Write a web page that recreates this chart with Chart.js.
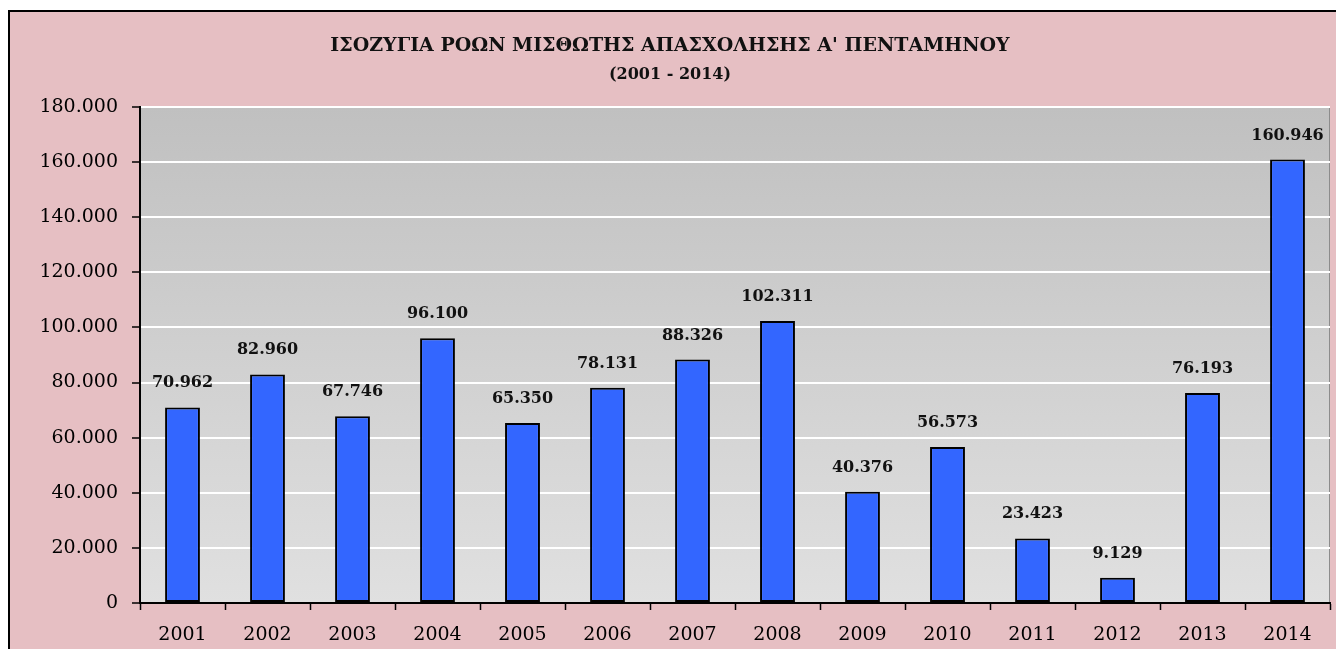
<!DOCTYPE html>
<html>
<head>
<meta charset="utf-8">
<script src="https://cdn.jsdelivr.net/npm/chart.js@4.4.0/dist/chart.umd.min.js"></script>
<style>
    html, body { margin: 0; padding: 0; background: #fff; overflow: hidden; }
    #frame {
        position: absolute;
        left: 8px;
        top: 10px;
        width: 1340px;
        height: 660px;
        border: 2px solid #000;
        background: #e6bfc3;
    }
    #wrap { position: absolute; left: 0; top: 0; width: 1326px; height: 637px; }
</style>
</head>
<body>
<div id="frame">
    <div id="wrap"><canvas id="chart"></canvas></div>
</div>
<script>
// Données
const years = ['2001', '2002', '2003', '2004', '2005', '2006', '2007',
               '2008', '2009', '2010', '2011', '2012', '2013', '2014'];
const balance = [70962, 82960, 67746, 96100, 65350, 78131, 88326,
                 102311, 40376, 56573, 23423, 9129, 76193, 160946];
const yTicks = [0, 20000, 40000, 60000, 80000, 100000, 120000, 140000, 160000, 180000];

const titleText = 'ΙΣΟΖΥΓΙΑ ΡΟΩΝ ΜΙΣΘΩΤΗΣ ΑΠΑΣΧΟΛΗΣΗΣ Α\' ΠΕΝΤΑΜΗΝΟΥ';
const subtitleText = '(2001 - 2014)';

// format 180000 -> 180.000
function fmt(v) {
    return String(Math.round(v)).replace(/\B(?=(\d{3})+(?!\d))/g, '.');
}

// fond gris dégradé + bord de la zone de tracé
const plotBackground = {
    id: 'plotBackground',
    beforeDraw(chart) {
        const { ctx, chartArea: a } = chart;
        const g = ctx.createLinearGradient(0, a.top, 0, a.bottom);
        g.addColorStop(0, '#c0c0c0');
        g.addColorStop(1, '#e0e0e0');
        ctx.save();
        ctx.fillStyle = g;
        ctx.fillRect(a.left, a.top, a.right - a.left, a.bottom - a.top);
        ctx.strokeStyle = '#8c8c8c';
        ctx.lineWidth = 1;
        ctx.strokeRect(a.left, a.top + 0.5, a.right - a.left - 0.5, a.bottom - a.top);
        ctx.restore();
    }
};

// étiquettes au-dessus des barres
const barLabels = {
    id: 'barLabels',
    afterDatasetsDraw(chart) {
        const { ctx } = chart;
        const meta = chart.getDatasetMeta(0);
        ctx.save();
        ctx.font = 'bold 16px "DejaVu Serif"';
        ctx.fillStyle = '#111';
        ctx.textAlign = 'center';
        ctx.textBaseline = 'alphabetic';
        meta.data.forEach((bar, i) => {
            ctx.fillText(fmt(balance[i]), bar.x, bar.y - 20);
        });
        ctx.restore();
    }
};

const ctx = document.getElementById('chart').getContext('2d');

new Chart(ctx, {
    type: 'bar',
    data: {
        labels: years,
        datasets: [{
            data: balance,
            backgroundColor: '#3366ff',
            borderColor: '#000',
            borderWidth: 2,
            borderSkipped: false,
            barPercentage: 0.41,
            categoryPercentage: 1
        }]
    },
    options: {
        responsive: true,
        maintainAspectRatio: false,
        animation: false,
        layout: { padding: { left: 0, right: 6, top: 0, bottom: 0 } },
        scales: {
            x: {
                afterFit(scale) { scale.height = 46; },
                grid: {
                    offset: true,
                    drawOnChartArea: false,
                    tickLength: 7,
                    tickColor: '#000',
                    tickWidth: 1.5
                },
                border: { color: '#000', width: 2 },
                ticks: {
                    color: '#000',
                    padding: 14,
                    font: { family: '"DejaVu Serif"', size: 19 }
                }
            },
            y: {
                min: 0,
                max: 180000,
                afterFit(scale) { scale.width = 130; },
                afterBuildTicks(scale) {
                    scale.ticks = yTicks.map(v => ({ value: v }));
                },
                grid: {
                    color: '#ffffff',
                    lineWidth: 2,
                    tickColor: '#000',
                    tickLength: 8,
                    tickWidth: 1.5
                },
                border: { color: '#000', width: 2 },
                ticks: {
                    color: '#000',
                    padding: 14,
                    font: { family: '"DejaVu Serif"', size: 19 },
                    callback: v => fmt(v)
                }
            }
        },
        plugins: {
            legend: { display: false },
            tooltip: { enabled: false },
            title: {
                display: true,
                text: titleText,
                color: '#111',
                font: { family: '"DejaVu Serif"', size: 19, weight: 'bold' },
                padding: { top: 23, bottom: 0 }
            },
            subtitle: {
                display: true,
                text: subtitleText,
                color: '#111',
                font: { family: '"DejaVu Serif"', size: 16, weight: 'bold' },
                padding: { top: 7, bottom: 23 }
            }
        }
    },
    plugins: [plotBackground, barLabels]
});
</script>
</body>
</html>
